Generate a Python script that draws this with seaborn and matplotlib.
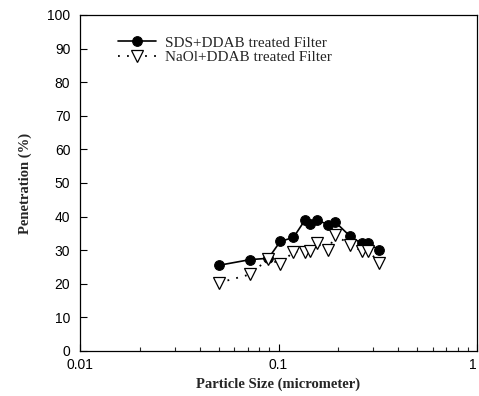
import numpy as np
import pandas as pd
import matplotlib
matplotlib.use("Agg")
import matplotlib.pyplot as plt
import matplotlib.ticker as mticker
import seaborn as sns

# particle size (micrometer) and penetration (%)
particle_size = [0.050, 0.072, 0.089, 0.102, 0.119, 0.136, 0.144,
                 0.156, 0.178, 0.193, 0.229, 0.262, 0.284, 0.322]
sds_ddab = [25.5, 27.2, 27.6, 32.6, 33.8, 39.0, 37.8,
            39.0, 37.6, 38.4, 34.2, 32.0, 32.0, 30.0]
naol_ddab = [20.3, 22.8, 27.5, 25.8, 29.6, 29.4, 29.8,
             32.0, 30.0, 34.6, 31.6, 29.8, 29.8, 26.2]

series_labels = ["SDS+DDAB treated Filter", "NaOl+DDAB treated Filter"]
y_ticks = [0, 10, 20, 30, 40, 50, 60, 70, 80, 90, 100]
x_ticks = [0.01, 0.1, 1]
x_ticklabels = ["0.01", "0.1", "1"]

df = pd.DataFrame({"size": particle_size, "sds": sds_ddab, "naol": naol_ddab})

sns.set_style("ticks")
plt.rcParams["font.family"] = ["Liberation Sans", "DejaVu Sans"]
serif = ["Liberation Serif", "DejaVu Serif"]

fig = plt.figure(figsize=(4.79, 3.96), dpi=100)
ax = fig.add_axes([80 / 479, 1 - 351 / 396, 397 / 479, 336 / 396])

sns.lineplot(data=df, x="size", y="sds", ax=ax, color="black", lw=1.2,
             marker="o", markersize=7, markerfacecolor="black",
             markeredgecolor="black", label=series_labels[0],
             sort=False, errorbar=None)
sns.lineplot(data=df, x="size", y="naol", ax=ax, color="black", lw=1.3,
             linestyle=(0, (1, 4)), marker="v", markersize=8,
             markerfacecolor="white", markeredgecolor="black",
             markeredgewidth=0.9, label=series_labels[1],
             sort=False, errorbar=None)

ax.set_xscale("log")
ax.set_xlim(0.01, 1)
ax.set_ylim(0, 100)
ax.set_yticks(y_ticks)
ax.set_xticks(x_ticks)
ax.set_xticklabels(x_ticklabels)
ax.get_xticklabels()[-1].set_ha("right")  # keep the "1" inside the picture
ax.xaxis.set_minor_locator(mticker.LogLocator(base=10, subs=np.arange(2, 10)))
ax.xaxis.set_minor_formatter(mticker.NullFormatter())

ax.tick_params(axis="both", which="major", direction="in", length=5,
               width=0.8, labelsize=10, colors="black")
ax.tick_params(axis="y", which="major", pad=7)
ax.tick_params(axis="x", which="major", pad=5)
ax.tick_params(axis="x", which="minor", direction="in", length=3, width=0.8)
ax.tick_params(axis="y", which="minor", left=False)
for s in ax.spines.values():
    s.set_linewidth(0.9)
    s.set_color("black")

ax.set_xlabel("Particle Size (micrometer)", fontfamily=serif,
              fontweight="bold", fontsize=10.5, labelpad=4)
ax.set_ylabel("Penetration (%)", fontfamily=serif,
              fontweight="bold", fontsize=10.5, labelpad=11)

leg = ax.legend(loc="upper left", bbox_to_anchor=(0.096, 0.938),
                frameon=False, borderpad=0, borderaxespad=0,
                handlelength=2.5, handletextpad=0.55, labelspacing=0.05,
                prop={"family": serif, "size": 11})

fig.savefig("out.png", dpi=100, facecolor="white")
